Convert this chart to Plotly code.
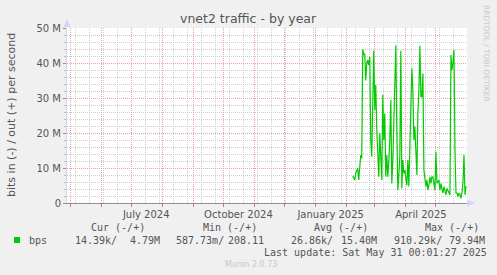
import pandas as pd
import plotly.graph_objects as go

# ---------------- data ----------------
start_date = "2025-02-07"
out_mbps = [
    7.8, 7.0, 6.6, 8.5, 9.2, 9.9, 6.6, 9.4, 13.7, 12.8,
    43.9, 42.3, 42.7, 35, 40, 40.9, 39.4, 41.8, 18, 13.2,
    35, 43.5, 26.6, 33.7, 20.9, 12, 7.5, 19.9, 10, 6.6,
    30.9, 18, 25.6, 7.5, 13.7, 7.5, 12, 18, 29.4, 5.6,
    12, 20.9, 30, 45.1, 20.9, 3.7, 8, 13.2, 43.5, 4.2,
    12.3, 8.5, 9.4, 7, 5.1, 12.3, 4.7, 16.1, 25.6, 38.5,
    32.3, 18, 21.8, 15, 8, 25.6, 32.3, 44.9, 30.4, 30.4,
    37, 9.4, 6, 4.7, 6.6, 3.7, 5, 7.5, 5.6, 7.5,
    7.5, 5, 3.7, 14.7, 5.6, 6, 6.6, 3.7, 5.6, 4,
    2.8, 4.7, 3.5, 2.3, 4.2, 3.7, 2.8, 2.3, 42.3, 38,
    40, 43.7, 15.1, 2.8, 2.8, 1.8, 2.8, 2.5, 1.3, 2.8,
    6, 13.7, 2.3, 4.79,
]
dates = pd.date_range(start_date, periods=len(out_mbps), freq="D")
values = [v * 1e6 for v in out_mbps]

x_range = ["2024-04-28", "2025-06-01"]
month_starts = [d.strftime("%Y-%m-%d") for d in pd.date_range("2024-05-01", "2025-05-01", freq="MS")]
y_tickvals = [0, 10e6, 20e6, 30e6, 40e6, 50e6]
y_ticktext = ["0", "10 M", "20 M", "30 M", "40 M", "50 M"]
x_label_dates = ["2024-07-16", "2024-10-16", "2025-01-16", "2025-04-16"]
x_label_text = ["July 2024", "October 2024", "January 2025", "April 2025"]

title = "vnet2 traffic - by year"
y_title = "bits in (-) / out (+) per second"
legend_header = ["Cur (-/+)", "Min (-/+)", "Avg (-/+)", "Max (-/+)"]
legend_name = "bps"
legend_vals = ["14.39k/", "4.79M", "587.73m/", "208.11", "26.86k/", "15.40M", "910.29k/", "79.94M"]
last_update = "Last update: Sat May 31 00:01:27 2025"
munin_ver = "Munin 2.0.73"
rrd_credit = "RRDTOOL / TOBI OETIKER"

# ---------------- layout helpers ----------------
W, H = 497, 275
L, R, T, B = 67, 30, 28, 72
PW, PH = W - L - R, H - T - B


def px(x):
    return (x - L) / PW


def py(y):
    return (H - B - y) / PH


FONT = "DejaVu Sans"
MONO = "DejaVu Sans Mono"
TXT = "#555555"
RED_GRID = "#E9A0A0"
GREY_GRID = "#CFCFCF"
AXIS = "#CFD6F8"
DOTS = "1px,1px"

fig = go.Figure()
fig.add_trace(go.Scatter(x=dates, y=values, mode="lines",
                         line=dict(color="#00CC00", width=1.2),
                         hoverinfo="skip", showlegend=False))
# dummy trace to activate label axis
fig.add_trace(go.Scatter(x=x_range, y=[None, None], xaxis="x2", mode="lines",
                         showlegend=False, hoverinfo="skip"))

fig.update_layout(
    width=W, height=H,
    margin=dict(l=L, r=R, t=T, b=B, pad=0),
    paper_bgcolor="#F0F0F0", plot_bgcolor="#FFFFFF",
    font=dict(family=FONT, size=10, color=TXT),
    showlegend=False,
    xaxis=dict(
        type="date", range=x_range,
        tickmode="array", tickvals=month_starts,
        showgrid=True, gridcolor=RED_GRID, griddash=DOTS, gridwidth=1,
        ticks="outside", ticklen=3, tickcolor="#E07070",
        showticklabels=False, zeroline=False,
        showline=True, linecolor="#8C8CA8", linewidth=1,
        minor=dict(tick0="2024-05-06", dtick=14 * 86400000,
                   showgrid=True, gridcolor=GREY_GRID, griddash=DOTS, gridwidth=1,
                   ticks=""),
    ),
    xaxis2=dict(
        type="date", overlaying="x", matches="x", side="bottom", anchor="y",
        tickmode="array", tickvals=x_label_dates, ticktext=x_label_text,
        showgrid=False, ticks="outside", ticklen=2, tickcolor="rgba(0,0,0,0)",
        tickfont=dict(family=FONT, size=10, color=TXT), zeroline=False,
        showline=False,
    ),
    yaxis=dict(
        range=[0, 50e6], tickmode="array", tickvals=y_tickvals, ticktext=y_ticktext,
        showgrid=True, gridcolor=RED_GRID, griddash=DOTS, gridwidth=1,
        ticks="outside", ticklen=3, tickcolor="#E07070",
        tickfont=dict(family=FONT, size=10, color=TXT),
        zeroline=False, showline=True, linecolor=AXIS, linewidth=1,
        minor=dict(dtick=2e6, tick0=0, showgrid=True, gridcolor=GREY_GRID,
                   griddash=DOTS, gridwidth=1, ticks="outside", ticklen=2,
                   tickcolor="#BBBBBB"),
    ),
)

shapes = [
    # top arrow of y axis
    dict(type="path", xref="paper", yref="paper",
         path=f"M {px(63.5)} {py(27)} L {px(70.5)} {py(27)} L {px(67)} {py(19)} Z",
         fillcolor=AXIS, line=dict(width=0)),
    # right arrow of x axis
    dict(type="path", xref="paper", yref="paper",
         path=f"M {px(467)} {py(199.5)} L {px(467)} {py(206.5)} L {px(475)} {py(203)} Z",
         fillcolor=AXIS, line=dict(width=0)),
    # legend swatch
    dict(type="rect", xref="paper", yref="paper",
         x0=px(14), x1=px(20), y0=py(237), y1=py(243),
         fillcolor="#00CC00", line=dict(width=0)),
]
fig.update_layout(shapes=shapes)

ann = []


def text(x, y, s, anchor="left", size=10, family=MONO, color=TXT, angle=0):
    ann.append(dict(x=px(x), y=py(y), xref="paper", yref="paper", text=s,
                    showarrow=False, xanchor=anchor, yanchor="middle",
                    textangle=angle,
                    font=dict(family=family, size=size, color=color)))


text(248, 18.5, title, anchor="center", size=12.5, family=FONT, color="#555555")
text(11, 115, y_title, anchor="center", size=11, family=FONT, angle=-90)
text(487, 53, rrd_credit, anchor="center", size=7.5, family=FONT, color="#C8C8C8", angle=90)

header_x = [89, 201, 312, 423]
for hx, h in zip(header_x, legend_header):
    text(hx, 227, h)
text(26.5, 240, legend_name)
val_x = [72.5, 128, 174, 225.5, 289, 339, 391.5, 446.5]
for vx, v in zip(val_x, legend_vals):
    text(vx, 240, v)
text(261.5, 252, last_update)
text(223, 264, munin_ver, size=8, family=FONT, color="#C8C8C8")

fig.update_layout(annotations=ann)
fig.write_html("out.html")
